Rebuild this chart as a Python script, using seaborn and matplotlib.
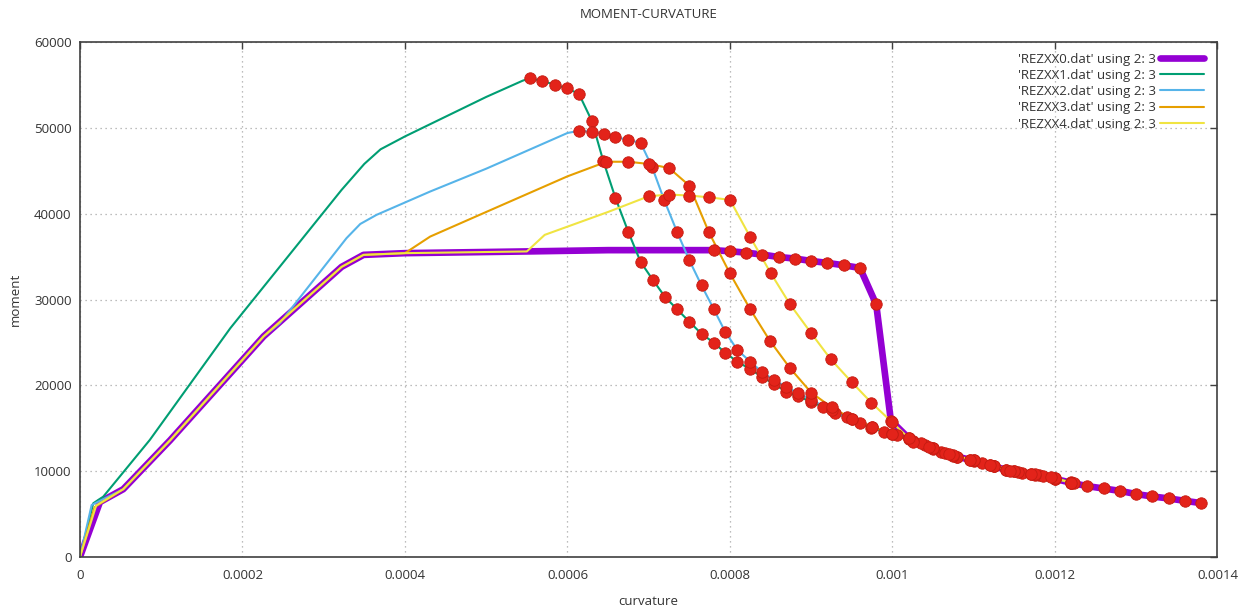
import matplotlib
matplotlib.use("Agg")
import matplotlib.pyplot as plt
from matplotlib.ticker import FuncFormatter, MultipleLocator
import seaborn as sns


# -------------------------
# Data
# -------------------------

# REZXX0 - thick purple
k0 = [0, 0.0000246, 0.0000533, 0.000111, 0.000226, 0.000322, 0.000349, 0.0004,
      0.00055, 0.00065, 0.00078, 0.0008, 0.00082, 0.00084, 0.00086, 0.00088,
      0.0009, 0.00092, 0.00094, 0.00096, 0.00098, 0.000998, 0.00102, 0.00104,
      0.00106, 0.00108, 0.0011, 0.00112, 0.00114, 0.00116, 0.00118, 0.0012,
      0.00122, 0.00124, 0.00126, 0.00128, 0.0013, 0.00132, 0.00134, 0.00136,
      0.00138]
m0 = [0, 6400, 7900, 13600, 25700, 33800, 35200, 35400,
      35600, 35750, 35750, 35620, 35460, 35230, 34950, 34770,
      34490, 34260, 33990, 33680, 29430, 15900, 13850, 13050,
      12250, 11700, 11200, 10700, 10150, 9800, 9500, 9100,
      8650, 8250, 7980, 7700, 7330, 7050, 6820, 6540,
      6280]
dots0 = 10

# REZXX1 - green
k1 = [0, 0.0000164, 0.0000287, 0.000086, 0.000185, 0.000322, 0.00035, 0.00037,
      0.0004, 0.00045, 0.0005, 0.000545, 0.000554, 0.000569, 0.000585, 0.000599,
      0.000614, 0.00063, 0.000644, 0.000659, 0.000675, 0.00069, 0.000705, 0.00072,
      0.000735, 0.00075, 0.000765, 0.00078, 0.000794, 0.000809, 0.000825, 0.000839,
      0.000854, 0.000869, 0.000884, 0.0009, 0.000915, 0.000929, 0.000944, 0.00096,
      0.000974, 0.000989, 0.001005, 0.00102, 0.001035, 0.00105, 0.001065, 0.00108,
      0.001095, 0.00111, 0.001125, 0.00114, 0.001155, 0.00117, 0.001185, 0.0012,
      0.00122]
m1 = [0, 6260, 7030, 13640, 26650, 42770, 45800, 47500,
      49000, 51300, 53600, 55500, 55770, 55450, 55020, 54600,
      53980, 50810, 46170, 41850, 37850, 34380, 32300, 30310,
      28850, 27410, 26000, 24980, 23810, 22760, 21880, 21010,
      20160, 19270, 18700, 18100, 17450, 16750, 16280, 15580,
      15070, 14600, 14200, 13720, 13250, 12670, 12100, 11700,
      11350, 11000, 10600, 10150, 9900, 9650, 9450, 9200,
      8700]
dots1 = 12

# REZXX2 - blue
k2 = [0, 0.0000144, 0.0000533, 0.000111, 0.000226, 0.000246, 0.000328, 0.000345,
      0.000365, 0.000431, 0.0005, 0.0006, 0.000614, 0.00063, 0.000645, 0.000659,
      0.000675, 0.00069, 0.000704, 0.000719, 0.000735, 0.00075, 0.000765, 0.00078,
      0.000794, 0.000809, 0.000825, 0.000839, 0.000854, 0.000869, 0.000884, 0.0009,
      0.000925, 0.00095, 0.000975, 0.001, 0.001025, 0.00105, 0.001075, 0.0011,
      0.001125, 0.00115, 0.001175, 0.0012, 0.00122]
m2 = [0, 6060, 7900, 13600, 25700, 27240, 37140, 38800,
      39860, 42580, 45240, 49400, 49650, 49540, 49270, 48950,
      48570, 48260, 45470, 41600, 37850, 34570, 31640, 28890,
      26260, 24130, 22760, 21600, 20630, 19850, 19080, 18330,
      17100, 16050, 15150, 14350, 13500, 12600, 11800, 11250,
      10600, 10000, 9600, 9100, 8650]
dots2 = 12

# REZXX3 - orange
k3 = [0, 0.000018, 0.0000533, 0.000111, 0.000226, 0.000322, 0.000349, 0.0004,
      0.000431, 0.0005, 0.0006, 0.000648, 0.000675, 0.0007, 0.000725, 0.00075,
      0.000774, 0.0008, 0.000825, 0.000849, 0.000874, 0.0009, 0.000925, 0.00095,
      0.000975, 0.001, 0.001025, 0.00105, 0.001075, 0.0011, 0.001125, 0.00115,
      0.001175, 0.0012, 0.001224]
m3 = [0, 5800, 7900, 13600, 25700, 33800, 35200, 35400,
      37330, 40200, 44350, 46050, 46050, 45790, 45320, 43270,
      37850, 33030, 28850, 25210, 21990, 19150, 17450, 16100,
      15200, 14300, 13450, 12650, 11850, 11300, 10650, 10050,
      9650, 9150, 8600]
dots3 = 11

# REZXX4 - yellow
k4 = [0, 0.00002, 0.0000533, 0.000111, 0.000226, 0.000322, 0.000349, 0.0004,
      0.00055, 0.000572, 0.00065, 0.0007, 0.000725, 0.00075, 0.000774, 0.0008,
      0.000825, 0.00085, 0.000874, 0.0009, 0.000924, 0.00095, 0.000974, 0.000999,
      0.00102, 0.001045, 0.00107, 0.001095, 0.00112, 0.001145, 0.00117, 0.001195,
      0.00122]
m4 = [0, 6000, 7900, 13600, 25700, 33800, 35200, 35400,
      35600, 37530, 40200, 42030, 42230, 42110, 41910, 41610,
      37270, 33100, 29430, 26070, 23040, 20360, 17980, 15750,
      13850, 12800, 11950, 11350, 10700, 10050, 9700, 9300,
      8650]
dots4 = 11

labels = ["'REZXX0.dat' using 2: 3", "'REZXX1.dat' using 2: 3",
          "'REZXX2.dat' using 2: 3", "'REZXX3.dat' using 2: 3",
          "'REZXX4.dat' using 2: 3"]
colors = ["#9400d3", "#009e73", "#56b4e9", "#e69f00", "#f0e442"]
x_ticks = [0, 0.0002, 0.0004, 0.0006, 0.0008, 0.001, 0.0012, 0.0014]


# -------------------------
# Plot
# -------------------------

def main():
    sns.set_style("white")
    plt.rcParams["font.family"] = ["Open Sans", "DejaVu Sans"]
    plt.rcParams["text.color"] = "#333333"

    fig = plt.figure(figsize=(12.55, 6.08), dpi=100)
    ax = fig.add_axes([0.0637, 0.0839, 0.9064, 0.8470])

    curves = [(k0, m0, dots0), (k1, m1, dots1), (k2, m2, dots2),
              (k3, m3, dots3), (k4, m4, dots4)]

    for i, (k, m, d) in enumerate(curves):
        sns.lineplot(x=k, y=m, estimator=None, sort=False, color=colors[i],
                     linewidth=4.8 if i == 0 else 1.5, label=labels[i], ax=ax,
                     zorder=2 + i * 0.1)

    # red points on the softening branches
    for k, m, d in curves:
        sns.scatterplot(x=k[d:], y=m[d:], color="#e3231a", edgecolor="#c41c12",
                        linewidth=0.6, s=68, ax=ax, zorder=5, legend=False)

    ax.set_xlim(0, 0.0014)
    ax.set_ylim(0, 60000)
    ax.set_xticks(x_ticks)
    ax.xaxis.set_major_formatter(FuncFormatter(lambda v, p: "%g" % v))
    ax.yaxis.set_major_locator(MultipleLocator(10000))
    ax.yaxis.set_major_formatter(FuncFormatter(lambda v, p: "%d" % v))

    ax.grid(True, color="#a8a8a8", linestyle=(0, (1, 3)), linewidth=0.9)
    ax.tick_params(direction="in", length=5, width=1, top=True, right=True,
                   labelsize=9.5, labelcolor="#333333", color="#404040")
    ax.tick_params(axis="x", pad=9)
    ax.tick_params(axis="y", pad=6)
    for s in ax.spines.values():
        s.set_color("#404040")
        s.set_linewidth(1.2)

    ax.set_title("MOMENT-CURVATURE", fontsize=9.5, pad=17, color="#333333")
    ax.set_xlabel("curvature", fontsize=9.5, labelpad=9, color="#333333")
    ax.set_ylabel("moment", fontsize=9.5, labelpad=9, color="#333333")

    leg = ax.legend(loc="upper right", bbox_to_anchor=(0.995, 0.995), frameon=False,
                    fontsize=9.5, markerfirst=False, handlelength=3.3,
                    handletextpad=0.3, labelspacing=0.25, borderaxespad=0.2)
    for t in leg.get_texts():
        t.set_color("#333333")

    fig.savefig("out.png", dpi=100)


if __name__ == "__main__":
    main()
